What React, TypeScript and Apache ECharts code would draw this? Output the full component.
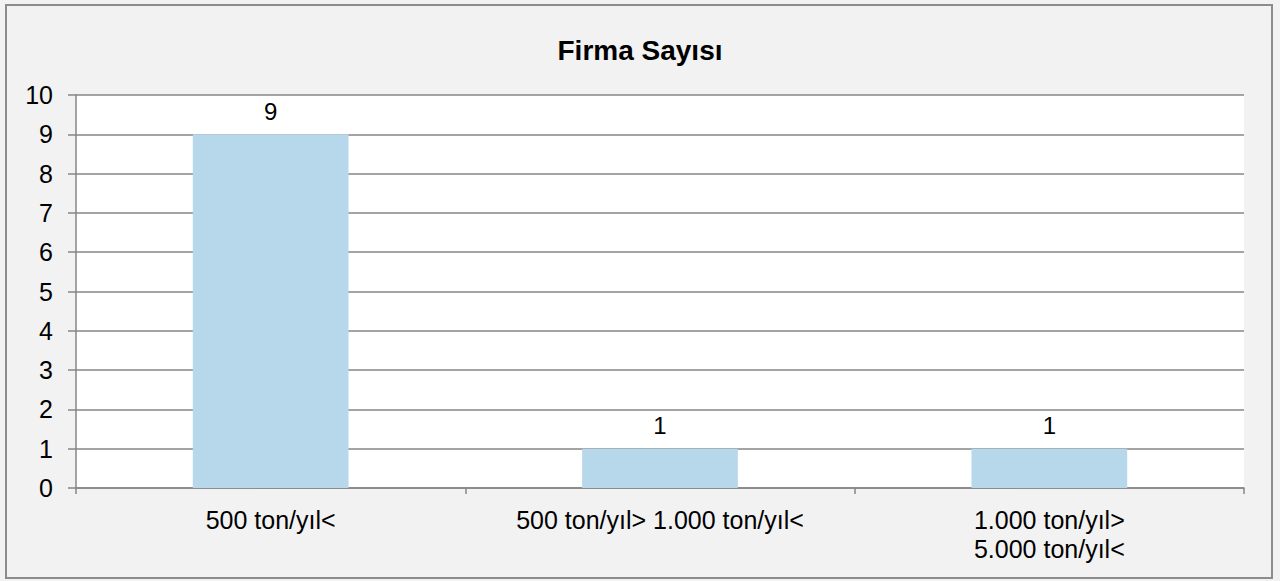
import React, { useEffect, useRef } from "react";
import * as echarts from "echarts";

const titleText = "Firma Sayısı";
const categories = ["500 ton/yıl<", "500 ton/yıl> 1.000 ton/yıl<", "1.000 ton/yıl>\n5.000 ton/yıl<"];
const firmCounts = [9, 1, 1];

const FONT = "'Liberation Sans', Arial, sans-serif";

export default function App() {
  const ref = useRef<HTMLDivElement>(null);
  useEffect(() => {
    if (!ref.current) return;
    const chart = echarts.init(ref.current, null, { renderer: "svg" });
    chart.setOption({
      animation: false,
      backgroundColor: "#f2f2f2",
      textStyle: { fontFamily: FONT },
      graphic: [
        {
          type: "rect",
          shape: { x: 6, y: 5, width: 1266, height: 573 },
          style: { fill: "none", stroke: "#8c8c8c", lineWidth: 2 },
          silent: true,
        },
      ],
      title: {
        text: titleText,
        left: "center",
        top: 31,
        textStyle: { fontSize: 28, fontWeight: "bold", color: "#000", fontFamily: FONT },
      },
      grid: { left: 76, right: 36, top: 95, bottom: 93, containLabel: false, show: true, backgroundColor: "#ffffff", borderWidth: 0 },
      xAxis: {
        type: "category",
        data: categories,
        axisLine: { show: true, lineStyle: { color: "#868686", width: 1.5 } },
        axisTick: { show: true, length: 6, lineStyle: { color: "#868686", width: 1.5 } },
        axisLabel: { color: "#000", fontSize: 25, margin: 17, lineHeight: 29, interval: 0, fontFamily: FONT },
      },
      yAxis: {
        type: "value",
        min: 0,
        max: 10,
        interval: 1,
        axisLine: { show: true, lineStyle: { color: "#868686", width: 1.5 } },
        axisTick: { show: true, length: 8, lineStyle: { color: "#868686", width: 1.5 } },
        axisLabel: { color: "#000", fontSize: 25, margin: 23, fontFamily: FONT },
        splitLine: { show: true, lineStyle: { color: "#868686", width: 1.5 } },
      },
      series: [
        {
          type: "bar",
          data: firmCounts,
          barWidth: "40%",
          itemStyle: { color: "#b7d7ea" },
          label: { show: true, position: "top", distance: 11, color: "#000", fontSize: 24, fontFamily: FONT },
        },
      ],
    });
    return () => chart.dispose();
  }, []);
  return <div ref={ref} style={{ position: "absolute", left: 0, top: 0, width: 1280, height: 581 }} />;
}
